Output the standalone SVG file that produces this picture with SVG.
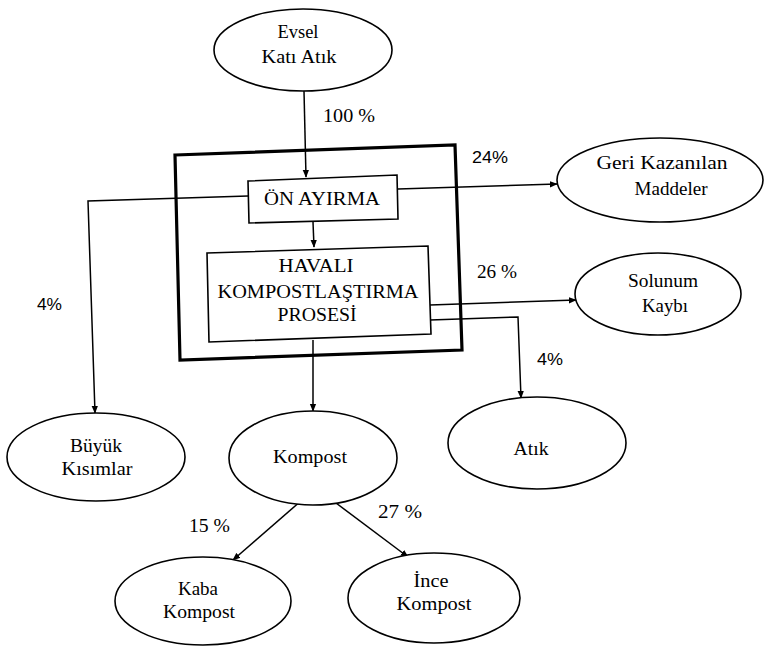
<svg xmlns="http://www.w3.org/2000/svg" width="764" height="649" viewBox="0 0 764 649">
<style>
.n{fill:#fff;stroke:#000;stroke-width:1.6}
.frame{fill:none;stroke:#000;stroke-width:3.2}
.t{font-family:"Liberation Serif","Times New Roman",serif;font-size:19px;fill:#000;text-anchor:middle}
.p{font-family:"Liberation Serif","Times New Roman",serif;font-size:18px;fill:#000}
.s{font-family:"Liberation Sans",Arial,sans-serif;font-size:17px;fill:#000}
.c{fill:none;stroke:#000;stroke-width:1.5}
</style>
<defs>
<marker id="ah" viewBox="0 0 10 10" refX="9" refY="5" markerWidth="8" markerHeight="8" markerUnits="userSpaceOnUse" orient="auto">
<path d="M0,1 L10,5 L0,9 Z" fill="#000"/>
</marker>
</defs>
<rect width="764" height="649" fill="#fff"/>
<g id="frame"><polygon class="frame" points="175,155 455,145 462,350 180,360"/></g>
<g id="connectors">
<path class="c" d="M304,91 L306,177" marker-end="url(#ah)"/>
<path class="c" d="M248,196 L88,201 L95,413" marker-end="url(#ah)"/>
<path class="c" d="M398,189 L557,184" marker-end="url(#ah)"/>
<path class="c" d="M313,222 L314,247" marker-end="url(#ah)"/>
<path class="c" d="M430,305 L576,300" marker-end="url(#ah)"/>
<path class="c" d="M430,320 L518,317 L521,398" marker-end="url(#ah)"/>
<path class="c" d="M313,340 L313,411" marker-end="url(#ah)"/>
<path class="c" d="M302,500 L233,560" marker-end="url(#ah)"/>
<path class="c" d="M332,500 L408,557" marker-end="url(#ah)"/>
</g>
<g id="labels">
<text class="p" x="323" y="122" textLength="52" lengthAdjust="spacingAndGlyphs">100 %</text>
<text class="s" x="472" y="163" textLength="36" lengthAdjust="spacingAndGlyphs">24%</text>
<text class="p" x="477" y="278" textLength="40" lengthAdjust="spacingAndGlyphs">26 %</text>
<text class="s" x="537" y="365" textLength="26" lengthAdjust="spacingAndGlyphs">4%</text>
<text class="s" x="37" y="310" textLength="25" lengthAdjust="spacingAndGlyphs">4%</text>
<text class="p" x="189" y="532" textLength="41" lengthAdjust="spacingAndGlyphs">15 %</text>
<text class="p" x="378" y="518" textLength="44" lengthAdjust="spacingAndGlyphs">27 %</text>
</g>
<g id="evsel">
<ellipse class="n" cx="303" cy="50" rx="89" ry="41"/>
<text class="t" x="298" y="38" textLength="41" lengthAdjust="spacingAndGlyphs">Evsel</text>
<text class="t" x="299" y="63" textLength="75" lengthAdjust="spacingAndGlyphs">Katı Atık</text>
</g>
<g id="on-ayirma">
<polygon class="n" points="248,181 397,175 398,219 249,223"/>
<text class="t" x="322" y="205" textLength="116" lengthAdjust="spacingAndGlyphs">ÖN AYIRMA</text>
</g>
<g id="havali">
<polygon class="n" points="207,253 428,246 431,334 209,342"/>
<text class="t" x="316" y="272" textLength="75" lengthAdjust="spacingAndGlyphs">HAVALI</text>
<text class="t" x="318" y="298" textLength="201" lengthAdjust="spacingAndGlyphs">KOMPOSTLAŞTIRMA</text>
<text class="t" x="317" y="321" textLength="79" lengthAdjust="spacingAndGlyphs">PROSESİ</text>
</g>
<g id="geri">
<ellipse class="n" cx="660" cy="180" rx="103" ry="42"/>
<text class="t" x="662" y="169" textLength="131" lengthAdjust="spacingAndGlyphs">Geri Kazanılan</text>
<text class="t" x="671" y="195" textLength="73" lengthAdjust="spacingAndGlyphs">Maddeler</text>
</g>
<g id="solunum">
<ellipse class="n" cx="658" cy="294" rx="83" ry="41"/>
<text class="t" x="663" y="287" textLength="70" lengthAdjust="spacingAndGlyphs">Solunum</text>
<text class="t" x="665" y="312" textLength="46" lengthAdjust="spacingAndGlyphs">Kaybı</text>
</g>
<g id="atik">
<ellipse class="n" cx="537" cy="443" rx="89" ry="46"/>
<text class="t" x="531" y="455" textLength="35" lengthAdjust="spacingAndGlyphs">Atık</text>
</g>
<g id="buyuk">
<ellipse class="n" cx="96" cy="457" rx="89" ry="44"/>
<text class="t" x="96" y="452" textLength="52" lengthAdjust="spacingAndGlyphs">Büyük</text>
<text class="t" x="97" y="475" textLength="71" lengthAdjust="spacingAndGlyphs">Kısımlar</text>
</g>
<g id="kompost">
<ellipse class="n" cx="313" cy="458" rx="84" ry="47"/>
<text class="t" x="310" y="463" textLength="74" lengthAdjust="spacingAndGlyphs">Kompost</text>
</g>
<g id="kaba">
<ellipse class="n" cx="203" cy="601" rx="88" ry="44"/>
<text class="t" x="198" y="595" textLength="40" lengthAdjust="spacingAndGlyphs">Kaba</text>
<text class="t" x="199" y="618" textLength="72" lengthAdjust="spacingAndGlyphs">Kompost</text>
</g>
<g id="ince">
<ellipse class="n" cx="434" cy="598" rx="86" ry="45"/>
<text class="t" x="431" y="587" textLength="35" lengthAdjust="spacingAndGlyphs">İnce</text>
<text class="t" x="434" y="610" textLength="75" lengthAdjust="spacingAndGlyphs">Kompost</text>
</g>
</svg>
